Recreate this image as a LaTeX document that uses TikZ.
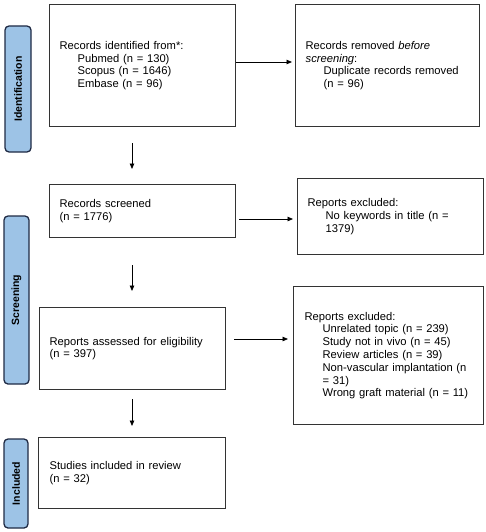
\documentclass[tikz,border=0pt]{standalone}
\usepackage{fontspec}
\setmainfont{Liberation Sans}
\usetikzlibrary{arrows.meta}
\definecolor{barfill}{HTML}{9DC3E6}
\definecolor{bardraw}{HTML}{1F2A44}
\definecolor{boxdraw}{HTML}{333333}
\tikzset{
  flowbox/.style={draw=boxdraw, line width=1.3pt, anchor=north west, inner xsep=10pt, inner ysep=0pt,
    align=left, font=\fontsize{11.2}{12.8}\selectfont},
  phasebar/.style={draw=bardraw, fill=barfill, line width=1.3pt, rounded corners=4pt, inner sep=0pt},
  phaselabel/.style={rotate=90, font=\fontsize{10.5}{12}\selectfont\bfseries, text=black},
  arr/.style={line width=0.8pt, -{Triangle[length=5.5pt,width=4.5pt]}}
}
\newcommand{\ind}{\hspace*{18pt}}
\begin{document}
\begin{tikzpicture}[x=1pt,y=-1pt]
\useasboundingbox (0,0) rectangle (486,532);
% phase bars
\node[phasebar, minimum width=26pt, minimum height=126pt] (pid) at (18,89) {};
\node[phaselabel] (lid) at (pid.center) {Identification};
\node[phasebar, minimum width=25pt, minimum height=168pt] (psc) at (16.5,300) {};
\node[phaselabel] (lsc) at (psc.center) {Screening};
\node[phasebar, minimum width=24pt, minimum height=89pt] (pin) at (16,483.5) {};
\node[phaselabel] (lin) at (pin.center) {Included};
% boxes
\node[flowbox, text width=166pt, minimum height=122pt] (b1) at (49,4)
  {Records identified from*:\\\ind Pubmed (n = 130)\\\ind Scopus (n = 1646)\\\ind Embase (n = 96)\\[13pt]};
\node[flowbox, text width=164pt, minimum height=122pt] (b2) at (295,4)
  {Records removed \textit{before}\\\textit{screening}:\\\ind Duplicate records removed\\\ind (n = 96)\\[13pt]};
\node[flowbox, text width=166pt, minimum height=53pt] (b3) at (49,184)
  {Records screened\\(n = 1776)};
\node[flowbox, text width=166pt, minimum height=76pt] (b4) at (297,178)
  {Reports excluded:\\\ind No keywords in title (n =\\\ind 1379)};
\node[flowbox, text width=166pt, minimum height=82pt] (b5) at (39,307)
  {Reports assessed for eligibility\\(n = 397)};
\node[flowbox, text width=168pt, minimum height=138pt, inner xsep=11pt] (b6) at (293,286)
  {Reports excluded:\\\ind Unrelated topic (n = 239)\\\ind Study not in vivo (n = 45)\\\ind Review articles (n = 39)\\\ind Non-vascular implantation (n\\\ind = 31)\\\ind Wrong graft material (n = 11)};
\node[flowbox, text width=165pt, minimum height=71pt, inner xsep=11pt] (b7) at (38,437)
  {Studies included in review\\(n = 32)};
% connector end points
\coordinate (d1s) at (132,143); \coordinate (d1e) at (132,169);
\coordinate (d2s) at (132,265); \coordinate (d2e) at (132,291);
\coordinate (d3s) at (132,399); \coordinate (d3e) at (132,426);
% connectors
\draw[arr] (b1.east |- 0,62) -- ([xshift=-3pt]b2.west |- 0,62);
\draw[arr] ([xshift=3pt]b3.east |- 0,219) -- ([xshift=-4pt]b4.west |- 0,219);
\draw[arr] ([xshift=8pt]b5.east |- 0,339) -- ([xshift=-5pt]b6.west |- 0,339);
\draw[arr] (d1s) -- (d1e);
\draw[arr] (d2s) -- (d2e);
\draw[arr] (d3s) -- (d3e);
\end{tikzpicture}
\end{document}
